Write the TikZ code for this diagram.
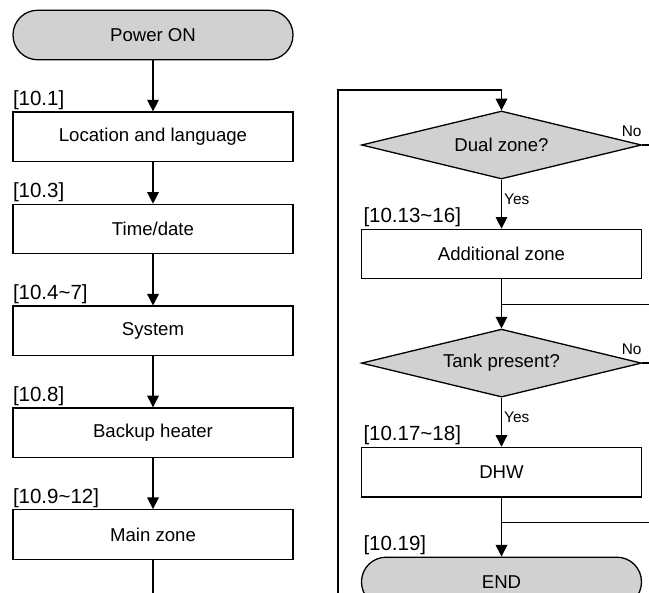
\documentclass[tikz,border=0pt]{standalone}
\usepackage{fontspec}
\setmainfont{Liberation Sans}
\usetikzlibrary{shapes, positioning, arrows.meta}

\definecolor{flowGray}{gray}{0.82}

\begin{document}
\begin{tikzpicture}[
        node distance=25.5pt,
        line width=0.65pt,
        % Style for the start and end terminals
        terminal/.style={
            rectangle, draw=black, fill=flowGray, rounded corners=12.3pt,
            minimum width=140pt, minimum height=24.75pt,
            font=\fontsize{9.3}{11}\selectfont
        },
        % Standard process block
        block/.style={
            rectangle, draw=black, fill=white,
            minimum width=140pt, minimum height=24.75pt,
            font=\fontsize{9.3}{11}\selectfont
        },
        % Yes/No decision
        decision/.style={
            diamond, draw=black, fill=flowGray, aspect=4, inner sep=0pt,
            minimum width=140pt, minimum height=34pt,
            font=\fontsize{9.3}{11}\selectfont
        },
        % Section reference above a block
        stepTag/.style={inner xsep=0pt, inner ysep=0.5pt, font=\fontsize{10.25}{12}\selectfont},
        answer/.style={inner sep=1pt, font=\fontsize{7.7}{9}\selectfont},
        line/.style={draw, -{Triangle[length=5.8pt, width=5.8pt]}},
        wire/.style={draw}
    ]

        % --- Page frame (the chart is cut off at the bottom and right) ---
        \coordinate (pageNW) at (0,0);
        \coordinate (pageSE) at (324.5pt,-296.5pt);
        \useasboundingbox (pageNW) rectangle (pageSE);
        \clip (pageNW) rectangle (pageSE);

        % --- Nodes ---

        % 1. Left column
        \node [terminal] (start) at (76.5pt,-17.5pt) {Power ON};
        \node [block, below=of start] (location) {Location and language};
        \node [block, below=20.75pt of location] (timeDate) {Time/date};
        \node [block, below=of timeDate] (system) {System};
        \node [block, below=of system] (heater) {Backup heater};
        \node [block, below=of heater] (mainZone) {Main zone};

        % 2. Right column
        \coordinate (loopTop) at (169pt,-45pt);
        \node [decision] (dualZone) at (250.75pt,-72.5pt) {Dual zone?};
        \node [block, below=24.5pt of dualZone] (addZone) {Additional zone};
        \node [decision, below=24.5pt of addZone] (tank) {Tank present?};
        \node [block, below=24.5pt of tank] (dhw) {DHW};
        \node [terminal, below=29.5pt of dhw] (finish) {END};

        \coordinate [below=12.5pt of addZone.south] (mergeTank);
        \coordinate [below=12.5pt of dhw.south] (mergeEnd);

        % Section references
        \node [stepTag, above right=0pt of location.north west] (tagLocation) {[10.1]};
        \node [stepTag, above right=0pt of timeDate.north west] (tagTime) {[10.3]};
        \node [stepTag, above right=0pt of system.north west] (tagSystem) {[10.4\textasciitilde7]};
        \node [stepTag, above right=0pt of heater.north west] (tagHeater) {[10.8]};
        \node [stepTag, above right=0pt of mainZone.north west] (tagMain) {[10.9\textasciitilde12]};
        \node [stepTag, above right=0pt and 1pt of addZone.north west] (tagAdd) {[10.13\textasciitilde16]};
        \node [stepTag, above right=0pt and 1pt of dhw.north west] (tagDhw) {[10.17\textasciitilde18]};
        \node [stepTag, above right=0pt and 1pt of finish.north west] (tagEnd) {[10.19]};

        % --- Edges ---

        % Left column, top to bottom
        \path [line] (start) -- (location);
        \path [line] (location) -- (timeDate);
        \path [line] (timeDate) -- (system);
        \path [line] (system) -- (heater);
        \path [line] (heater) -- (mainZone);
        \path [wire] (mainZone) -- (mainZone.south |- pageSE);

        % Continues into the right column
        \path [line] (loopTop |- pageSE) -- (loopTop) -| (dualZone.north);

        \path [line] (dualZone) -- node[answer, pos=0.4, right] (yesDual) {Yes} (addZone);
        \path [wire] (dualZone.east) -- (dualZone.east -| pageSE);
        \node [answer, anchor=south east] (noDual) at ([shift={(1pt,3pt)}]dualZone.east) {No};

        \path [line] (addZone) -- (tank);
        \path [wire] (mergeTank -| pageSE) -- (mergeTank);

        \path [line] (tank) -- node[answer, pos=0.4, right] (yesTank) {Yes} (dhw);
        \path [wire] (tank.east) -- (tank.east -| pageSE);
        \node [answer, anchor=south east] (noTank) at ([shift={(1pt,3pt)}]tank.east) {No};

        \path [line] (dhw) -- (finish);
        \path [wire] (mergeEnd -| pageSE) -- (mergeEnd);

    \end{tikzpicture}
\end{document}
